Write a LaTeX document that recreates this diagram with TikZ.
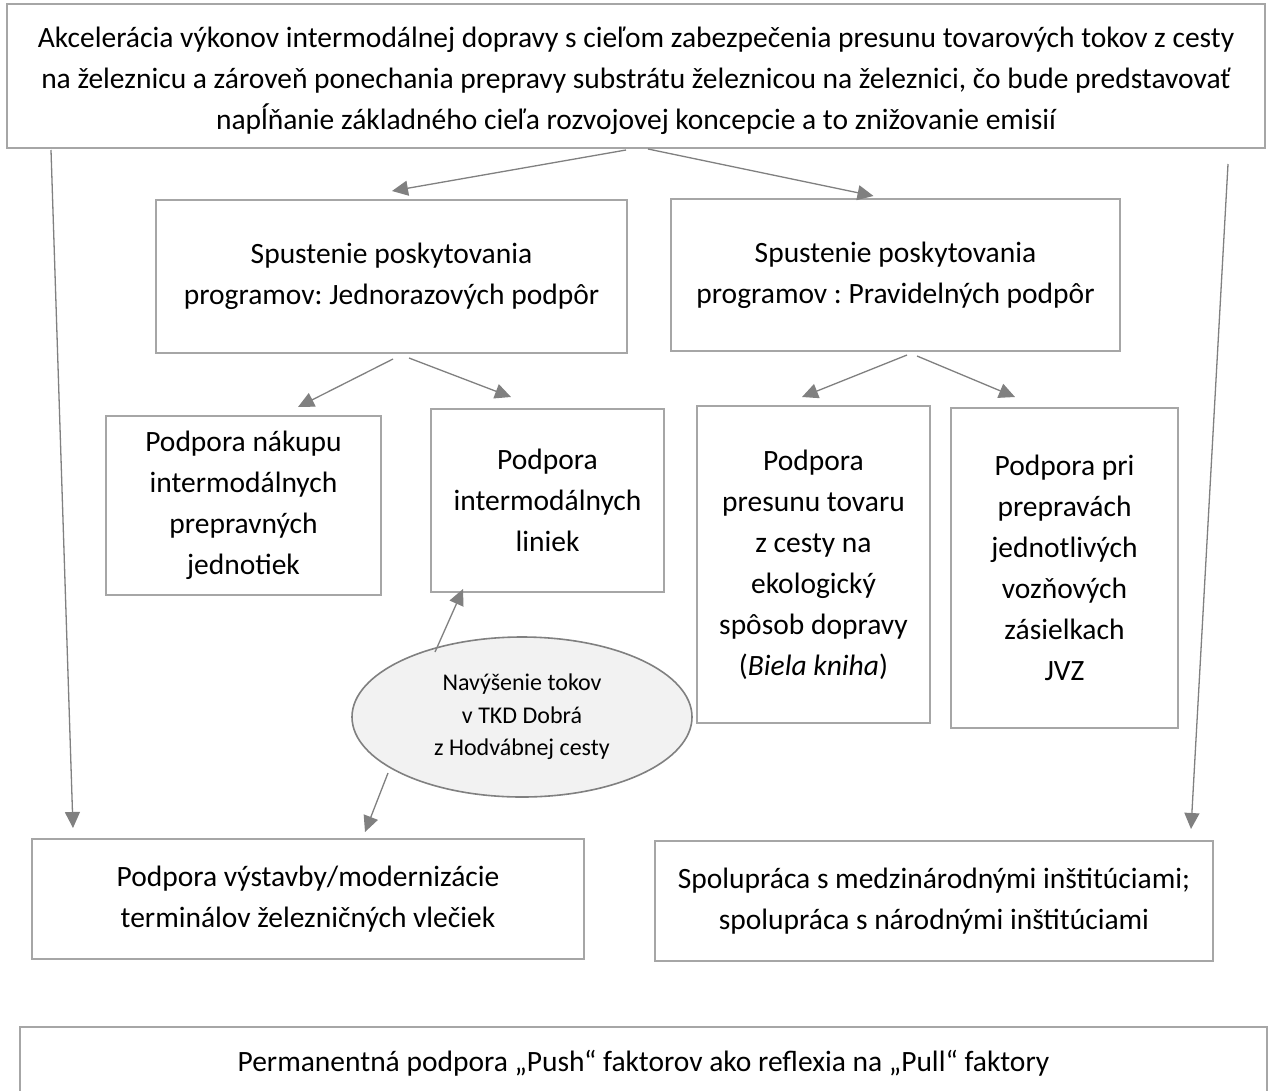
\documentclass[tikz,border=0pt]{standalone}
\usepackage{fontspec}
\setmainfont{Carlito}
\frenchspacing
\usetikzlibrary{arrows.meta,shapes.geometric,calc}
\definecolor{boxgray}{HTML}{A6A6A6}
\definecolor{arrgray}{HTML}{808080}
\definecolor{ellfill}{HTML}{F2F2F2}
\begin{document}
\begin{tikzpicture}[x=1pt,y=-1pt,
  box/.style={draw=boxgray,line width=2pt,rectangle,inner sep=0pt,align=center,
    font=\fontsize{29.5}{41}\selectfont},
  txt/.style={inner sep=0pt,align=center,font=\fontsize{29.5}{41}\selectfont},
  arr/.style={draw=arrgray,line width=1.3pt,-{Triangle[length=16pt,width=15pt]}},
  oval/.style={ellipse,draw=arrgray,line width=1.6pt,fill=ellfill,inner sep=0pt,
    align=center,font=\fontsize{24}{32.5}\selectfont}
]
\path[use as bounding box,clip] (0,0) rectangle (1268,1090);
\fill[white] (0,0) rectangle (1268,1090);

\node[box,minimum width=1258pt,minimum height=144pt] (goal) at (636,76) {};
\node[txt] (goaltext) at (636,81)
  {Akcelerácia výkonov intermodálnej dopravy s cieľom zabezpečenia presunu tovarových tokov z cesty\\
   na železnicu a zároveň ponechania prepravy substrátu železnicou na železnici, čo bude predstavovať\\
   napĺňanie základného cieľa rozvojovej koncepcie a to znižovanie emisií};

\node[box,minimum width=471pt,minimum height=153pt] (mL) at (391.5,276.5)
  {Spustenie poskytovania\\programov: Jednorazových podpôr};
\node[box,minimum width=449pt,minimum height=152pt] (mR) at (895.5,275)
  {Spustenie poskytovania\\programov : Pravidelných podpôr};

\node[box,minimum width=275pt,minimum height=179pt] (nak) at (243.5,505.5)
  {Podpora nákupu\\intermodálnych\\prepravných\\jednotiek};
\node[box,minimum width=233pt,minimum height=183pt] (lin) at (547.5,500.5)
  {Podpora\\intermodálnych\\liniek};
\node[box,minimum width=233pt,minimum height=317pt] (pres) at (813.5,564.5)
  {Podpora\\presunu tovaru\\z cesty na\\ekologický\\spôsob dopravy\\(\textit{Biela kniha})};
\node[box,minimum width=227pt,minimum height=320pt] (jvz) at (1064.5,568)
  {Podpora pri\\prepravách\\jednotlivých\\vozňových\\zásielkach\\JVZ};

\node[oval,minimum width=340pt,minimum height=160pt] (ell) at (522,717)
  {Navýšenie tokov\\v TKD Dobrá\\z Hodvábnej cesty};

\node[box,minimum width=552pt,minimum height=120pt] (bL) at (308,899)
  {Podpora výstavby/modernizácie\\terminálov železničných vlečiek};
\node[box,minimum width=558pt,minimum height=120pt] (bR) at (934,901)
  {Spolupráca s medzinárodnými inštitúciami;\\spolupráca s národnými inštitúciami};

\node[box,minimum width=1247pt,minimum height=72pt] (perm) at (643.5,1063)
  {Permanentná podpora „Push“ faktorov ako reflexia na „Pull“ faktory};

% connectors
\draw[arr] ($(goal.south)+(-10,1)$) -- ($(mL.north)+(0.5,-8)$);
\draw[arr] ($(goal.south)+(12,0)$) -- ($(mR.north)+(-22,-2)$);
\draw[arr] ($(goal.south west)+(45,1)$) -- ($(bL.north west)+(42,-10)$);
\draw[arr] ($(goal.south east)+(-38,15)$) -- ($(bR.north east)+(-23,-11)$);

\draw[arr] ($(mL.south)+(1.5,5)$) -- ($(nak.north)+(54.5,-8)$);
\draw[arr] ($(mL.south)+(17.5,4)$) -- ($(lin.north)+(-36.5,-11)$);
\draw[arr] ($(mR.south)+(11.5,3)$) -- ($(pres.north)+(-11.5,-8)$);
\draw[arr] ($(mR.south)+(21.5,4)$) -- ($(jvz.north)+(-49.5,-10)$);

\draw[arr] ($(ell.center)+(-87,-65)$) -- ($(lin.south)+(-84.5,-4)$);
\draw[arr] ($(ell.center)+(-134,56)$) -- ($(bL.north)+(57,-6)$);
\end{tikzpicture}
\end{document}
